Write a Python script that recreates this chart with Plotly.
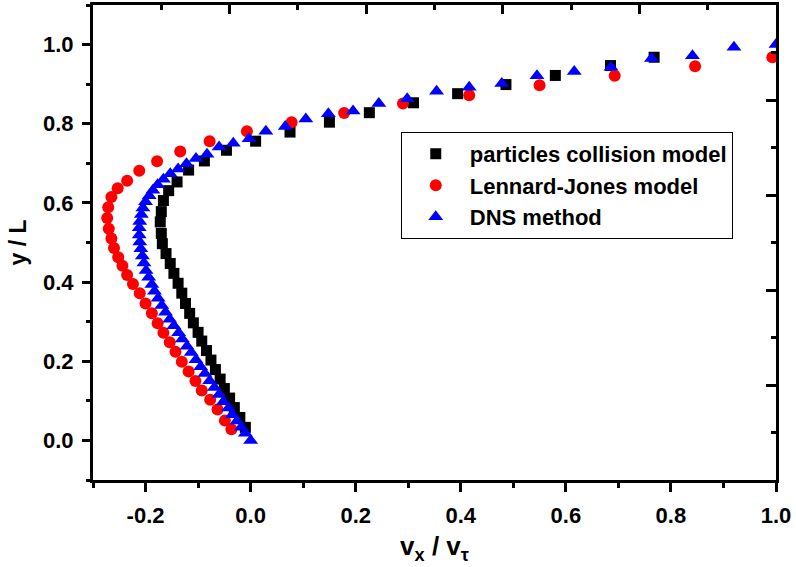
import plotly.graph_objects as go

# ---------------- data ----------------
pc_x = [-0.010, -0.0205, -0.031, -0.040, -0.050, -0.058, -0.067, -0.0755, -0.084, -0.093,
        -0.100, -0.109, -0.116, -0.124, -0.131, -0.138, -0.146, -0.153, -0.161, -0.168,
        -0.170, -0.172, -0.170, -0.166, -0.156, -0.140, -0.118, -0.088, -0.046, 0.0095,
        0.075, 0.150, 0.226, 0.310, 0.394, 0.486, 0.580, 0.685, 0.768]
pc_y = [0.033, 0.058, 0.083, 0.107, 0.131, 0.155, 0.179, 0.203, 0.227, 0.251,
        0.273, 0.297, 0.321, 0.346, 0.372, 0.397, 0.422, 0.447, 0.472, 0.497,
        0.523, 0.552, 0.578, 0.606, 0.631, 0.653, 0.683, 0.706, 0.733, 0.756,
        0.779, 0.804, 0.828, 0.853, 0.876, 0.899, 0.922, 0.947, 0.968]

lj_x = [-0.0366, -0.049, -0.063, -0.077, -0.093, -0.105, -0.118, -0.131, -0.143, -0.154,
        -0.166, -0.177, -0.188, -0.200, -0.211, -0.224, -0.235, -0.244, -0.252, -0.260,
        -0.265, -0.270, -0.273, -0.271, -0.265, -0.253, -0.235, -0.212, -0.178, -0.134,
        -0.078, -0.007, 0.078, 0.178, 0.290, 0.416, 0.550, 0.693, 0.846, 0.993]
lj_y = [0.028, 0.050, 0.078, 0.103, 0.126, 0.150, 0.174, 0.199, 0.224, 0.248,
        0.272, 0.296, 0.321, 0.346, 0.372, 0.395, 0.418, 0.441, 0.463, 0.486,
        0.510, 0.535, 0.562, 0.589, 0.615, 0.637, 0.656, 0.681, 0.705, 0.730,
        0.756, 0.781, 0.804, 0.827, 0.851, 0.872, 0.897, 0.921, 0.945, 0.968]

dns_x = [0.000, -0.010, -0.018, -0.026, -0.035, -0.042, -0.052, -0.060, -0.069, -0.078,
         -0.087, -0.095, -0.104, -0.113, -0.121, -0.130, -0.137, -0.146, -0.154, -0.162,
         -0.169, -0.176, -0.183, -0.188, -0.194, -0.199, -0.203, -0.206, -0.209, -0.211,
         -0.212, -0.212, -0.211, -0.208, -0.205, -0.200, -0.193, -0.186, -0.177, -0.166,
         -0.153, -0.138, -0.122, -0.104, -0.083, -0.060, -0.033, -0.003, 0.029, 0.066,
         0.105, 0.148, 0.195, 0.244, 0.298, 0.354, 0.416, 0.478, 0.545, 0.616,
         0.686, 0.763, 0.841, 0.920, 1.000]
dns_y = [0.000, 0.018, 0.033, 0.049, 0.065, 0.082, 0.098, 0.116, 0.134, 0.151,
         0.169, 0.186, 0.204, 0.222, 0.238, 0.256, 0.272, 0.290, 0.306, 0.324,
         0.341, 0.359, 0.377, 0.394, 0.412, 0.429, 0.448, 0.466, 0.484, 0.501,
         0.519, 0.537, 0.553, 0.571, 0.587, 0.603, 0.618, 0.632, 0.646, 0.660,
         0.674, 0.686, 0.699, 0.712, 0.723, 0.741, 0.751, 0.762, 0.781, 0.793,
         0.812, 0.825, 0.832, 0.851, 0.863, 0.882, 0.892, 0.902, 0.921, 0.932,
         0.943, 0.965, 0.972, 0.993, 1.000]

x_tick_vals = [-0.2, 0.0, 0.2, 0.4, 0.6, 0.8, 1.0]
x_tick_text = ["-0.2", "0.0", "0.2", "0.4", "0.6", "0.8", "1.0"]
y_tick_vals = [0.0, 0.2, 0.4, 0.6, 0.8, 1.0]
y_tick_text = ["0.0", "0.2", "0.4", "0.6", "0.8", "1.0"]

series_names = ["particles collision model", "Lennard-Jones model", "DNS method"]

# ---------------- figure ----------------
FONT = "Liberation Sans, Arial, sans-serif"

fig = go.Figure()
fig.add_trace(go.Scatter(x=pc_x, y=pc_y, mode="markers", name=series_names[0],
                         marker=dict(symbol="square", size=11, color="black")))
fig.add_trace(go.Scatter(x=lj_x, y=lj_y, mode="markers", name=series_names[1],
                         marker=dict(symbol="circle", size=12, color="#ff0000")))
fig.add_trace(go.Scatter(x=dns_x, y=dns_y, mode="markers", name=series_names[2],
                         marker=dict(symbol="triangle-up", size=13, color="#0000ff")))
# helper trace so the mirror (top / right) axes get drawn
fig.add_trace(go.Scatter(x=[None], y=[None], xaxis="x2", yaxis="y2",
                         showlegend=False, hoverinfo="skip"))

tickfont = dict(family=FONT, size=22, color="black", weight="bold")

fig.update_layout(
    width=796, height=567,
    margin=dict(l=93, r=15, t=5, b=87),
    paper_bgcolor="white", plot_bgcolor="white",
    font=dict(family=FONT, color="black"),
    showlegend=True,
    legend=dict(x=0.4506, y=0.733, xanchor="left", yanchor="top",
                bordercolor="black", borderwidth=1, bgcolor="white",
                font=dict(family=FONT, size=22, color="black", weight="bold"),
                itemwidth=58, tracegroupgap=0),
    xaxis=dict(range=[-0.3, 1.0], tickvals=x_tick_vals, ticktext=x_tick_text,
               ticks="outside", ticklen=9, tickwidth=2.5, tickcolor="black",
               minor=dict(dtick=0.1, tick0=0, ticks="outside", ticklen=5,
                          tickwidth=2.5, tickcolor="black"),
               showline=True, linewidth=3, linecolor="black", showgrid=False,
               zeroline=False, tickfont=tickfont, ticklabelstandoff=5,
               ticklabeloverflow="allow",
               title=dict(text="v<sub>x</sub> / v<sub>τ</sub>", standoff=10,
                          font=dict(family=FONT, size=26, color="black", weight="bold"))),
    yaxis=dict(range=[-0.1, 1.1], tickvals=y_tick_vals, ticktext=y_tick_text,
               ticks="outside", ticklen=8, tickwidth=2.5, tickcolor="black",
               minor=dict(dtick=0.1, tick0=0, ticks="outside", ticklen=4,
                          tickwidth=2.5, tickcolor="black"),
               showline=True, linewidth=3, linecolor="black", showgrid=False,
               zeroline=False, tickfont=tickfont, ticklabelstandoff=4,
               ticklabeloverflow="allow",
               title=dict(text="y / L", standoff=10,
                          font=dict(family=FONT, size=23, color="black", weight="bold"))),
    xaxis2=dict(overlaying="x", side="top", range=[0, 1], dtick=0.2, tick0=0,
                ticks="inside", ticklen=9, tickwidth=2.5, tickcolor="black",
                minor=dict(dtick=0.1, ticks="inside", ticklen=5, tickwidth=2.5,
                           tickcolor="black"),
                showticklabels=False, showline=True, linewidth=3, linecolor="black",
                showgrid=False, zeroline=False, fixedrange=True),
    yaxis2=dict(overlaying="y", side="right", range=[0, 1], dtick=0.2, tick0=0,
                ticks="inside", ticklen=10, tickwidth=2.5, tickcolor="black",
                minor=dict(dtick=0.1, ticks="inside", ticklen=5, tickwidth=2.5,
                           tickcolor="black"),
                showticklabels=False, showline=True, linewidth=3, linecolor="black",
                showgrid=False, zeroline=False, fixedrange=True),
)

fig.write_html("out.html")
